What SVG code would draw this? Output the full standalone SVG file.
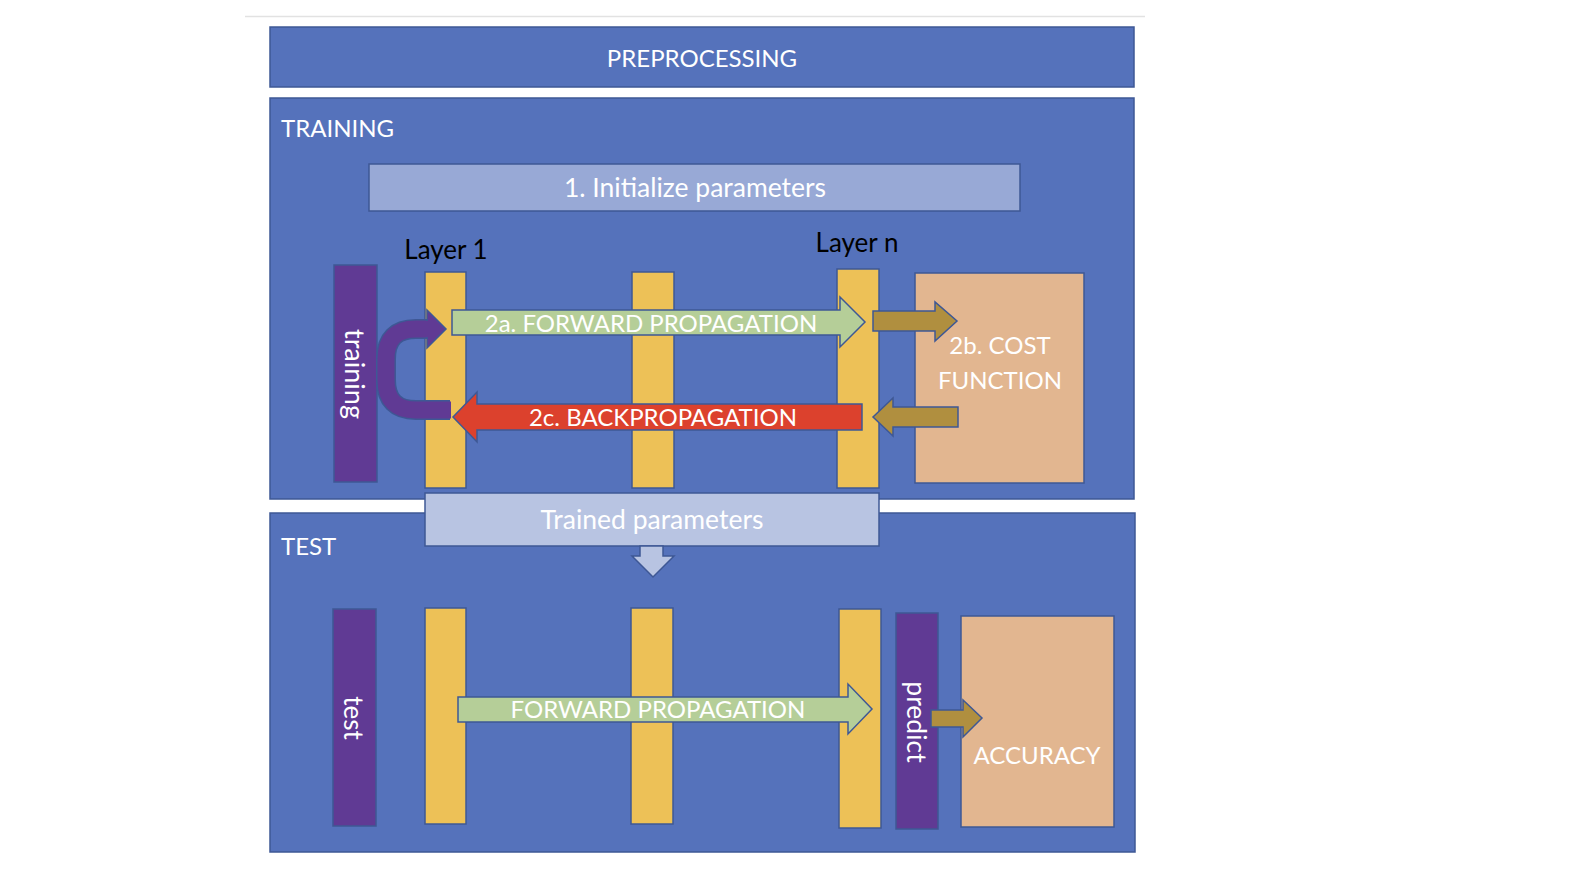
<svg xmlns="http://www.w3.org/2000/svg" width="1570" height="880" viewBox="0 0 1570 880">
<style>
.panel{fill:#5572BB;stroke:#3E5895;stroke-width:1.5}
.bar{fill:#EDC157;stroke:#3E5895;stroke-width:1.5}
.purp{fill:#603A94;stroke:#3E5895;stroke-width:1.5}
.peach{fill:#E2B690;stroke:#3E5895;stroke-width:1.5}
.green{fill:#B5CE98;stroke:#3E5895;stroke-width:1.5}
.red{fill:#DC412D;stroke:#3E5895;stroke-width:1.5}
.olive{fill:#B08F3F;stroke:#3E5895;stroke-width:1.5}
.lt{fill:#B8C4E2;stroke:#3E5895;stroke-width:1.5}
text{font-family:Lato,"Open Sans","Liberation Sans",sans-serif;fill:#FFFFFF;font-size:24px}
.c{text-anchor:middle;dominant-baseline:central}
.blk{fill:#000000;font-size:26px}
.lc{font-size:26.5px}
</style>
<rect x="0" y="0" width="1570" height="880" fill="#FFFFFF"/>
<line x1="245" y1="16.5" x2="1145" y2="16.5" stroke="#E2E2E2" stroke-width="1.5"/>

<g id="preprocessing">
<rect class="panel" x="270" y="27" width="864" height="60"/>
<text class="c" x="702" y="57">PREPROCESSING</text>
</g>

<g id="training">
<rect class="panel" x="270" y="98" width="864" height="401"/>
<text x="281" y="137">TRAINING</text>
</g>

<g id="test">
<rect class="panel" x="270" y="513" width="865" height="339"/>
<text x="281" y="555">TEST</text>
</g>

<g id="init">
<rect x="369" y="164" width="651" height="47" fill="#98A9D6" stroke="#3E5895" stroke-width="1.5"/>
<text class="c lc" x="695" y="187">1. Initialize parameters</text>
</g>

<g id="layer-labels">
<text class="blk" x="446" y="259" text-anchor="middle">Layer 1</text>
<text class="blk" x="857" y="252" text-anchor="middle">Layer n</text>
</g>

<g id="training-data">
<rect class="purp" x="334" y="265" width="43" height="217"/>
<text class="c" style="font-size:27px" transform="translate(355,374) rotate(90)">training</text>
</g>

<g id="train-layer1"><rect class="bar" x="425" y="272" width="41" height="216"/></g>
<g id="train-layer2"><rect class="bar" x="632" y="272" width="42" height="216"/></g>
<g id="train-layern"><rect class="bar" x="837" y="269" width="42" height="219"/></g>

<g id="cost">
<rect class="peach" x="915" y="273" width="169" height="210"/>
<text class="c" x="1000" y="344">2b. COST</text>
<text class="c" x="1000" y="379">FUNCTION</text>
</g>

<g id="trained-params">
<rect class="lt" x="425" y="493" width="454" height="53"/>
<text class="c lc" x="652" y="519">Trained parameters</text>
</g>

<g id="test-data">
<rect class="purp" x="333" y="609" width="43" height="217"/>
<text class="c" style="font-size:26px" transform="translate(354,718) rotate(90)">test</text>
</g>
<g id="test-layer1"><rect class="bar" x="425" y="608" width="41" height="216"/></g>
<g id="test-layer2"><rect class="bar" x="631" y="608" width="42" height="216"/></g>
<g id="test-layern"><rect class="bar" x="839" y="609" width="42" height="219"/></g>

<g id="predict">
<rect class="purp" x="896" y="613" width="42" height="216"/>
<text class="c lc" transform="translate(917,722) rotate(90)">predict</text>
</g>

<g id="accuracy">
<rect class="peach" x="961" y="616" width="153" height="211"/>
<text class="c" x="1037" y="754">ACCURACY</text>
</g>

<g id="connectors">
<!-- purple loop arrow -->
<path d="M450,410 H416 Q386,410 386,380 V359 Q386,329 416,329 H428" fill="none" stroke="#3E5895" stroke-width="20"/>
<path d="M451,410 H416 Q386,410 386,380 V359 Q386,329 416,329 H429" fill="none" stroke="#603A94" stroke-width="17"/>
<polygon class="purp" points="427,310 446,329 427,348"/>
<rect x="421" y="321" width="8" height="16" fill="#603A94"/>

<!-- forward propagation (training) -->
<polygon class="green" points="452,310 840,310 840,297 865,322 840,347 840,335 452,335"/>
<text class="c" x="651" y="322">2a. FORWARD PROPAGATION</text>

<!-- to cost -->
<polygon class="olive" points="873,311 935,311 935,302 957,321 935,341 935,331 873,331"/>

<!-- from cost -->
<polygon class="olive" points="958,407 893,407 893,398 873,417 893,436 893,427 958,427"/>

<!-- backpropagation -->
<polygon class="red" points="862,404 477,404 477,392 453,417 477,442 477,430 862,430"/>
<text class="c" x="663" y="416">2c. BACKPROPAGATION</text>

<!-- trained params down arrow -->
<polygon class="lt" points="640,546 663,546 663,556 674,556 653,577 632,556 640,556"/>

<!-- forward propagation (test) -->
<polygon class="green" points="458,697 848,697 848,684 872,709 848,734 848,722 458,722"/>
<text class="c" x="658" y="708">FORWARD PROPAGATION</text>

<!-- predict to accuracy -->
<polygon class="olive" points="931,710 963,710 963,700 982,718 963,737 963,727 931,727"/>
</g>
</svg>
